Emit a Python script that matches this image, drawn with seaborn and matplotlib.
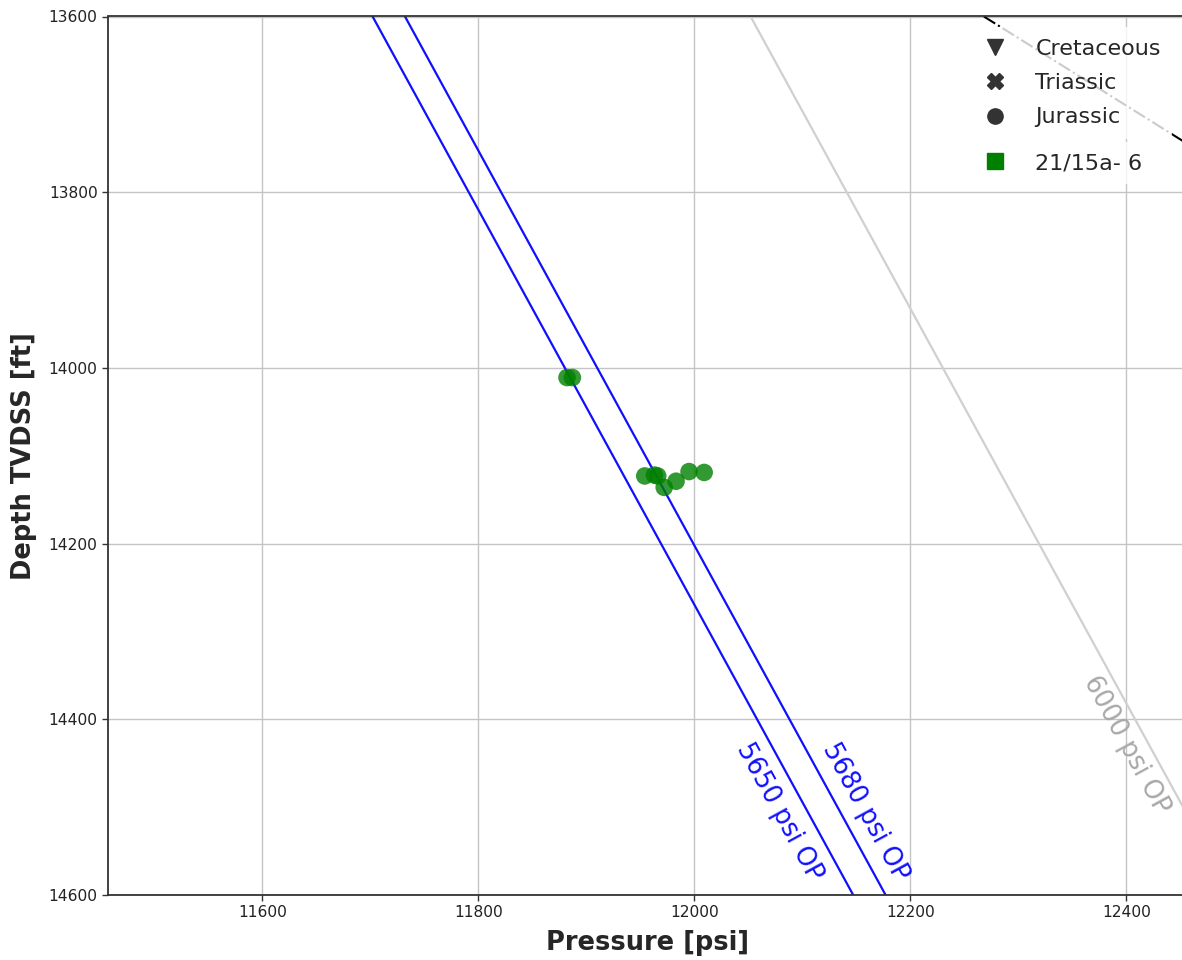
import numpy as np
import pandas as pd
import matplotlib
matplotlib.use("Agg")
import matplotlib.pyplot as plt
from matplotlib.lines import Line2D
import seaborn as sns

# Pressure measurements (well 21/15a- 6)
pressure_psi = [11882, 11887, 11954, 11963, 11966, 11972, 11983, 11995, 12009]
depth_ft = [14011, 14011, 14123, 14122, 14123, 14136, 14129, 14118, 14119]
formation = ["Jurassic"] * len(pressure_psi)
well = ["21/15a- 6"] * len(pressure_psi)

# Overpressure reference lines: P = OP + gradient * depth
op_values = [5650, 5680, 6000]
op_labels = ["5650 psi OP", "5680 psi OP", "6000 psi OP"]
op_colors = ["#1010ff", "#1010ff", "#d0d0d0"]
op_text_colors = ["#1010ff", "#1010ff", "#a8a8a8"]
water_gradient = 0.445  # psi/ft

# Steep reference trend (dash-dot)
trend_intercept = 12268 - 1.3 * 13600
trend_gradient = 1.3

formations = ["Cretaceous", "Triassic", "Jurassic"]
formation_markers = {"Cretaceous": "v", "Triassic": "X", "Jurassic": "o"}

xlim = (11457, 12457)
ylim = (14600, 13600)

sns.set_style("whitegrid", {
    "axes.edgecolor": "#333333",
    "grid.color": "#c4c4c4",
    "xtick.bottom": True,
    "ytick.left": True,
})

fig = plt.figure(figsize=(11.82, 9.6), dpi=100)
ax = fig.add_axes([108 / 1182, 65 / 960, 1080 / 1182, 878.5 / 960])
ax.set_xlim(*xlim)
ax.set_ylim(*ylim)

depths = np.array(ylim[::-1], dtype=float)
for op, col in zip(op_values, op_colors):
    ax.plot(op + water_gradient * depths, depths, color=col, lw=1.6, zorder=2)

ax.plot(trend_intercept + trend_gradient * depths, depths, color="black",
        lw=1.5, ls="-.", zorder=2)

df = pd.DataFrame({"Pressure": pressure_psi, "Depth": depth_ft,
                   "Formation": formation, "Well": well})
sns.scatterplot(data=df, x="Pressure", y="Depth", hue="Well", style="Formation",
                markers=formation_markers, palette={"21/15a- 6": "green"},
                s=160, alpha=0.8, edgecolor="none", legend=False, ax=ax, zorder=3)

# Rotated labels along the OP lines
p0 = ax.transData.transform((op_values[0] + water_gradient * 13600, 13600))
p1 = ax.transData.transform((op_values[0] + water_gradient * 14600, 14600))
angle = np.degrees(np.arctan2(p1[1] - p0[1], p1[0] - p0[0]))
label_depths = [14505, 14505, 14429]
label_offsets = [-26, 23, -21]
for op, lab, tc, d, off in zip(op_values, op_labels, op_text_colors,
                               label_depths, label_offsets):
    ax.text(op + water_gradient * d + off, d, lab, color=tc, fontsize=18.4,
            rotation=angle, ha="center", va="center", rotation_mode="anchor",
            zorder=4)

ax.set_xlabel("Pressure [psi]", fontsize=18.5, fontweight="bold", labelpad=7)
ax.set_ylabel("Depth TVDSS [ft]", fontsize=18.5, fontweight="bold", labelpad=8)
ax.tick_params(axis="both", labelsize=11.2, length=4, width=1, color="#333333",
               labelcolor="#222222")
ax.set_xticks([11600, 11800, 12000, 12200, 12400])
ax.set_yticks([13600, 13800, 14000, 14200, 14400, 14600])
for sp in ax.spines.values():
    sp.set_linewidth(1.3)
ax.grid(True, lw=1)

# Legends: formation markers and well colour, aligned on the same column
legend_kw = dict(loc="upper left", fontsize=16, frameon=True, framealpha=0.8,
                 edgecolor="none", facecolor="white", handletextpad=0.8,
                 borderpad=0.5, borderaxespad=0)
anchor_x = (962 - 108) / 1080
form_handles = [Line2D([], [], ls="none", marker=formation_markers[f],
                       color="#333333", markersize=11) for f in formations]
leg1 = ax.legend(form_handles, formations, bbox_to_anchor=(anchor_x, 1 - 11 / 878.5),
                 labelspacing=0.65, **legend_kw)
ax.add_artist(leg1)
well_handles = [Line2D([], [], ls="none", marker="s", color="green", markersize=11)]
ax.legend(well_handles, ["21/15a- 6"],
          bbox_to_anchor=(anchor_x, 1 - (142 - 16.5) / 878.5), **legend_kw)

fig.savefig("out.png", dpi=100)
